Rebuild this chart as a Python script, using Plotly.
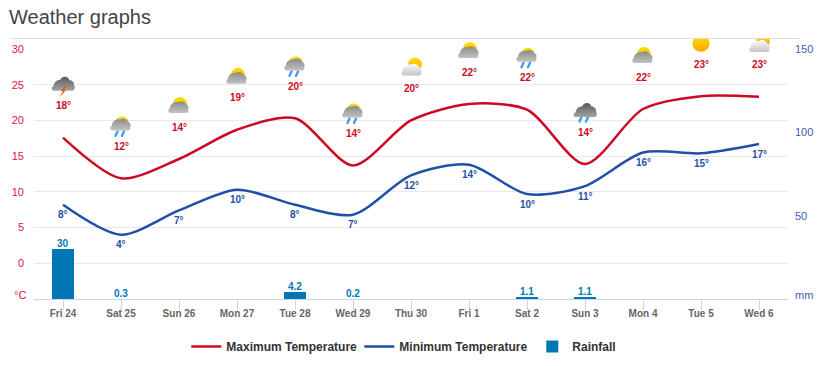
import base64
import plotly.graph_objects as go

days = ["Fri 24", "Sat 25", "Sun 26", "Mon 27", "Tue 28", "Wed 29", "Thu 30", "Fri 1", "Sat 2", "Sun 3", "Mon 4", "Tue 5", "Wed 6"]
max_temp = [17.6, 11.9, 14.6, 18.7, 20.3, 13.7, 20.0, 22.3, 21.5, 13.9, 21.6, 23.4, 23.3]
min_temp = [8.2, 4.0, 7.4, 10.3, 8.2, 6.8, 12.3, 13.8, 9.7, 10.8, 15.5, 15.4, 16.7]
rainfall = [30, 0.3, None, None, 4.2, 0.2, None, None, 1.1, 1.1, None, None, None]
rain_labels = ["30", "0.3", "", "", "4.2", "0.2", "", "", "1.1", "1.1", "", "", ""]
max_labels = ["18°", "12°", "14°", "19°", "20°", "14°", "20°", "22°", "22°", "14°", "22°", "23°", "23°"]
min_labels = ["8°", "4°", "7°", "10°", "8°", "7°", "12°", "14°", "10°", "11°", "16°", "15°", "17°"]
icons = ["storm", "sunrain", "suncloud", "suncloud", "sunrain", "sunrain", "palecloud",
         "suncloud", "sunrain", "darkrain", "suncloud", "sun", "palecloud"]

RED, BLUE, BAR = "#cc0a25", "#1f50a8", "#0077b3"
W, H, L, R, T, B = 818, 366, 33.5, 788.5, 48.5, 299
Y_MIN, Y_MAX = -5, 30


def px(x):
    return (x - L) / (R - L)


def py(y):
    return (B - y) / (B - T)


def uri(svg):
    return "data:image/svg+xml;base64," + base64.b64encode(svg.encode()).decode()


DEFS = """<defs>
<linearGradient id="s" x1="0" y1="0" x2="0" y2="1"><stop offset="0" stop-color="#ffe000"/><stop offset="1" stop-color="#ffa800"/></linearGradient>
<linearGradient id="g" x1="0" y1="0" x2="0" y2="1"><stop offset="0" stop-color="#8a8a8a"/><stop offset="1" stop-color="#c2c2c2"/></linearGradient>
<linearGradient id="d" x1="0" y1="0" x2="0" y2="1"><stop offset="0" stop-color="#5a5a5a"/><stop offset="1" stop-color="#a4a4a4"/></linearGradient>
<linearGradient id="p" x1="0" y1="0" x2="0" y2="1"><stop offset="0" stop-color="#fdfdfd"/><stop offset="1" stop-color="#c4c4c4"/></linearGradient>
</defs>"""
CLOUD = "M3.5 19 C1 19 0.5 15 3 14 C3 10 7 7.5 11 8 C14 6 18 7.5 19 10.5 C21.5 11 22.5 14 21 15.5 C22 17.5 21 19 19 19 Z"
DARK_CLOUD = "M3 18 C0 18 0 14 2.5 13.5 C3 9 7 7 9 7.5 C10.5 3 17 2.5 18.5 7.5 C21 7 23.5 10 23 12.5 C24.5 14 24 18 21 18 Z"


def icon(kind):
    sun = '<circle cx="13" cy="10" r="7" fill="url(#s)"/>'
    rain = ('<path d="M8.5 18 L6.5 22.5 M15 18 L13 22.5" stroke="#3f9bf5" stroke-width="2.4" '
            'stroke-linecap="round" fill="none"/>')
    bolt = '<path d="M14 13 L10 18.5 L12 18.5 L8 25 L15 17.5 L13 17.5 L15.5 13 Z" fill="#f2580c"/>'
    body = {
        "sun": '<circle cx="12" cy="12" r="8.6" fill="url(#s)"/>',
        "suncloud": sun + f'<path d="{CLOUD}" fill="url(#g)"/>',
        "sunrain": sun + rain + f'<path d="{CLOUD}" transform="translate(0,-2)" fill="url(#g)"/>',
        "palecloud": '<circle cx="16" cy="9" r="7" fill="url(#s)"/>'
                     + f'<path d="{CLOUD}" transform="translate(1,1)" fill="url(#p)"/>',
        "darkrain": rain + f'<path d="{DARK_CLOUD}" fill="url(#d)"/>',
        "storm": f'<path d="{DARK_CLOUD}" fill="url(#d)"/>' + bolt,
    }[kind]
    return f'<svg xmlns="http://www.w3.org/2000/svg" width="96" height="96" viewBox="0 0 24 24">{DEFS}{body}</svg>'


CHEVRON = ('<svg xmlns="http://www.w3.org/2000/svg" width="40" height="40" viewBox="0 0 12 14">'
           '<path d="M3 1.5 L9 7 L3 12.5" fill="none" stroke="#0077b3" stroke-width="2"/></svg>')

LABEL = "Liberation Sans, Arial, sans-serif"
fig = go.Figure()
fig.add_trace(go.Scatter(x=days, y=max_temp, name="Maximum Temperature", mode="lines",
                         line=dict(color=RED, width=2.5, shape="spline", smoothing=0.8), hoverinfo="skip"))
fig.add_trace(go.Scatter(x=days, y=min_temp, name="Minimum Temperature", mode="lines",
                         line=dict(color=BLUE, width=2.5, shape="spline", smoothing=0.8), hoverinfo="skip"))
fig.add_trace(go.Bar(x=days, y=rainfall, name="Rainfall", yaxis="y2", width=0.38,
                     marker=dict(color=BAR, line=dict(width=0), opacity=[0 if (v or 0) < 0.5 else 1 for v in rainfall]),
                     hoverinfo="skip"))

annotations = []
images = []
for i, d in enumerate(days):
    annotations.append(dict(x=d, y=max_temp[i], yref="y", text=f"<b>{max_labels[i]}</b>", showarrow=False, yshift=32,
                            font=dict(family=LABEL, size=10, color=RED)))
    annotations.append(dict(x=d, y=min_temp[i], yref="y", text=f"<b>{min_labels[i]}</b>", showarrow=False, yshift=-10,
                            font=dict(family=LABEL, size=10, color=BLUE)))
    if rain_labels[i]:
        annotations.append(dict(x=d, y=rainfall[i], yref="y2", text=f"<b>{rain_labels[i]}</b>", showarrow=False, yshift=5.5,
                                font=dict(family=LABEL, size=10, color=BAR)))
    images.append(dict(source=uri(icon(icons[i])), xref="paper", yref="paper", x=(i + 0.5) / len(days),
                       y=(max_temp[i] - Y_MIN) / (Y_MAX - Y_MIN) + 53 / (B - T), sizex=24 / (R - L), sizey=24 / (B - T),
                       xanchor="center", yanchor="middle", layer="above", sizing="stretch"))

images.append(dict(source=uri(CHEVRON), xref="paper", yref="paper", x=px(803), y=py(16), sizex=16 / (R - L),
                   sizey=16 / (B - T), xanchor="center", yanchor="middle", layer="above"))

annotations += [
    dict(xref="paper", yref="paper", x=px(6), y=py(16), xanchor="left", yanchor="middle", text="Weather graphs",
         showarrow=False, font=dict(family=LABEL, size=20, color="#444444")),
    dict(xref="paper", yref="paper", x=px(27), y=py(295), xanchor="right", yanchor="middle", text="°C", showarrow=False,
         font=dict(family=LABEL, size=11, color="#d9163a")),
    dict(xref="paper", yref="paper", x=px(794), y=py(295), xanchor="left", yanchor="middle", text="mm", showarrow=False,
         font=dict(family=LABEL, size=11, color="#3a62ad")),
]

shapes = [
    dict(type="rect", xref="paper", yref="paper", x0=px(0), x1=px(818), y0=py(0), y1=py(38), layer="above",
         fillcolor="white", line=dict(width=0)),
    dict(type="line", xref="paper", yref="paper", x0=px(9), x1=px(800), y0=py(38), y1=py(38), layer="above",
         line=dict(color="#dddddd", width=1)),
]

fig.update_layout(
    width=W, height=H, autosize=False, paper_bgcolor="white", plot_bgcolor="white",
    margin=dict(l=L, r=W - R, t=T, b=H - B, pad=0, autoexpand=False),
    font=dict(family=LABEL), hovermode=False, annotations=annotations, images=images, shapes=shapes,
    xaxis=dict(type="category", categoryorder="array", categoryarray=days, range=[-0.5, 12.5], showgrid=False,
               showline=True, linecolor="#ccd6eb", linewidth=1, ticks="outside", ticklen=10, tickcolor="#ccd6eb",
               tickwidth=1, tickfont=dict(family=LABEL, size=10, color="#666666", weight="bold"), zeroline=False,
               ticklabelstandoff=-5),
    yaxis=dict(range=[Y_MIN, Y_MAX], tickvals=[0, 5, 10, 15, 20, 25, 30], ticks="", showgrid=True, gridcolor="#e9e9e9",
               gridwidth=1, zeroline=False, showline=False, ticklabelstandoff=9,
               tickfont=dict(family=LABEL, size=11, color="#d9163a")),
    yaxis2=dict(overlaying="y", side="right", range=[0, 150], tickvals=[50, 100, 150], ticks="", showgrid=False,
                zeroline=False, showline=False, ticklabelstandoff=6,
                tickfont=dict(family=LABEL, size=11, color="#3a62ad")),
    legend=dict(orientation="h", xref="paper", yref="paper", x=px(186), y=py(332), xanchor="left", yanchor="top",
                itemwidth=30, entrywidth=128, entrywidthmode="pixels", bgcolor="rgba(0,0,0,0)",
                font=dict(family=LABEL, size=12, color="#333333", weight="bold"),
                traceorder="normal", itemclick=False, itemdoubleclick=False),
)
fig.write_html("out.html", config=dict(displayModeBar=False), post_script="document.body.style.margin='0';")
